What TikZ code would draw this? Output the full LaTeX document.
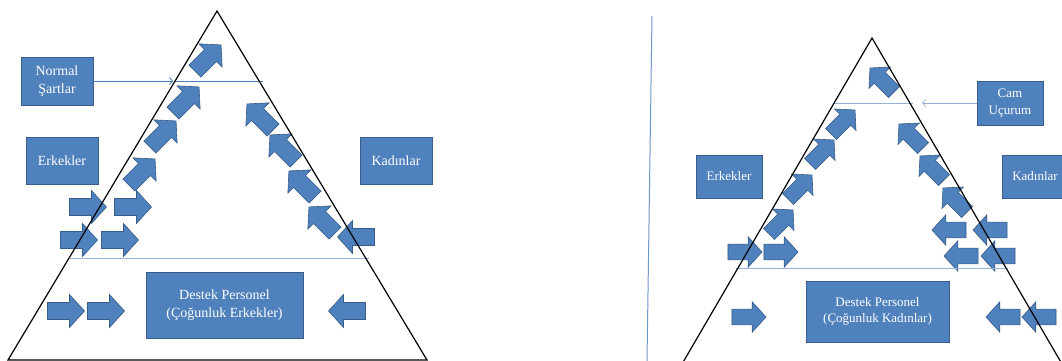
\documentclass[tikz,border=0pt]{standalone}
\usepackage{fontspec}
\setmainfont{Liberation Serif}
\usetikzlibrary{arrows.meta}
\definecolor{fillblue}{HTML}{4F81BD}
\definecolor{edgeblue}{HTML}{385D8A}
\definecolor{lineblue}{HTML}{4A7EBB}
\definecolor{lightblue}{HTML}{95B3D7}
\definecolor{vblue}{HTML}{6F97C9}
\tikzset{
 box/.style={draw=edgeblue, fill=fillblue, line width=0.8pt, text=white, align=center, inner sep=0pt},
 bigtext/.style={font=\fontsize{14}{18}\selectfont},
 smalltext/.style={font=\fontsize{13}{16.7}\selectfont},
 blockarrow/.style={draw=edgeblue, fill=fillblue, line width=0.6pt, line join=miter},
 tri/.style={draw=black, line width=1.2pt},
 conn/.style={draw=lineblue, line width=0.8pt, -{Straight Barb[length=3pt,width=7pt]}},
 guide/.style={draw=lineblue, line width=0.8pt},
 lightguide/.style={draw=lightblue, line width=0.8pt},
 pics/barrow/.style={code={\path[blockarrow] (-18.5,-8.5) -- (3.5,-8.5) -- (3.5,-16.5) -- (18.5,0) -- (3.5,16.5) -- (3.5,8.5) -- (-18.5,8.5) -- cycle;}},
}
\begin{document}
\begin{tikzpicture}[x=1pt,y=-1pt]
\useasboundingbox (0,0) rectangle (1062,361);
\clip (0,0) rectangle (1062,361);

% ---------------- left panel ----------------
% block arrows
\foreach \p in {(208,58),(186,100),(163,134),(142,172)} \pic[rotate=45] at \p {barrow};
\foreach \p in {(260,117),(283,148),(302,184),(322,220)} \pic[rotate=135] at \p {barrow};
\foreach \p in {(88,207),(133,207),(79,240),(120,240),(66,311),(106,311)} \pic at \p {barrow};
\foreach \p in {(356,237),(347,311)} \pic[rotate=180] at \p {barrow};

% guide lines
\draw[guide] (175,81) -- (263,81);
\draw[lightguide] (70,258) -- (369,258);

% triangle
\draw[tri] (8,360) -- (217,11) -- (427,360) -- cycle;

% boxes
\node[box,bigtext,minimum width=72pt,minimum height=48pt] (ns) at (57,81) {Normal\\Şartlar};
\node[box,bigtext,minimum width=72pt,minimum height=47pt] (erkL) at (62,160.5) {Erkekler};
\node[box,bigtext,minimum width=72pt,minimum height=47pt] (kadL) at (396,160.5) {Kadınlar};
\node[box,bigtext,minimum width=157pt,minimum height=66pt] (destL) at (224.5,305) {Destek Personel\\(Çoğunluk Erkekler)};

\coordinate (nsend) at (173,81);
\draw[conn] (ns.east) -- (nsend);

% ---------------- separator ----------------
\draw[vblue, line width=1pt] (652,16) -- (647,361);

% ---------------- right panel ----------------
\foreach \p in {(843,122),(822,152),(800,187),(781,222)} \pic[rotate=45,scale=0.92] at \p {barrow};
\foreach \p in {(882,80),(911,136),(932,168),(955,200)} \pic[rotate=135,scale=0.92] at \p {barrow};
\foreach \p in {(745,252),(781,252),(749,317)} \pic[scale=0.92] at \p {barrow};
\foreach \p in {(949,230),(990,230),(961,256),(998,256),(1003,317),(1039,317)} \pic[rotate=180,scale=0.92] at \p {barrow};

\draw[lightguide] (834,103) -- (913,103);
\draw[lightguide] (736,268) -- (1008,268);

\draw[tri] (682,364) -- (872,38) -- (1062,364);

\node[box,smalltext,minimum width=66pt,minimum height=44pt] (cam) at (1010,103) {Cam\\Uçurum};
\node[box,smalltext,minimum width=66pt,minimum height=43pt] (erkR) at (729,176.5) {Erkekler};
\node[box,smalltext,minimum width=66pt,minimum height=43pt] (kadR) at (1035,176.5) {Kadınlar};
\node[box,smalltext,minimum width=143pt,minimum height=61pt] (destR) at (877.5,311.5) {Destek Personel\\(Çoğunluk Kadınlar)};

\coordinate (camend) at (922,103);
\draw[conn, draw=lightblue] (cam.west) -- (camend);
\end{tikzpicture}
\end{document}
